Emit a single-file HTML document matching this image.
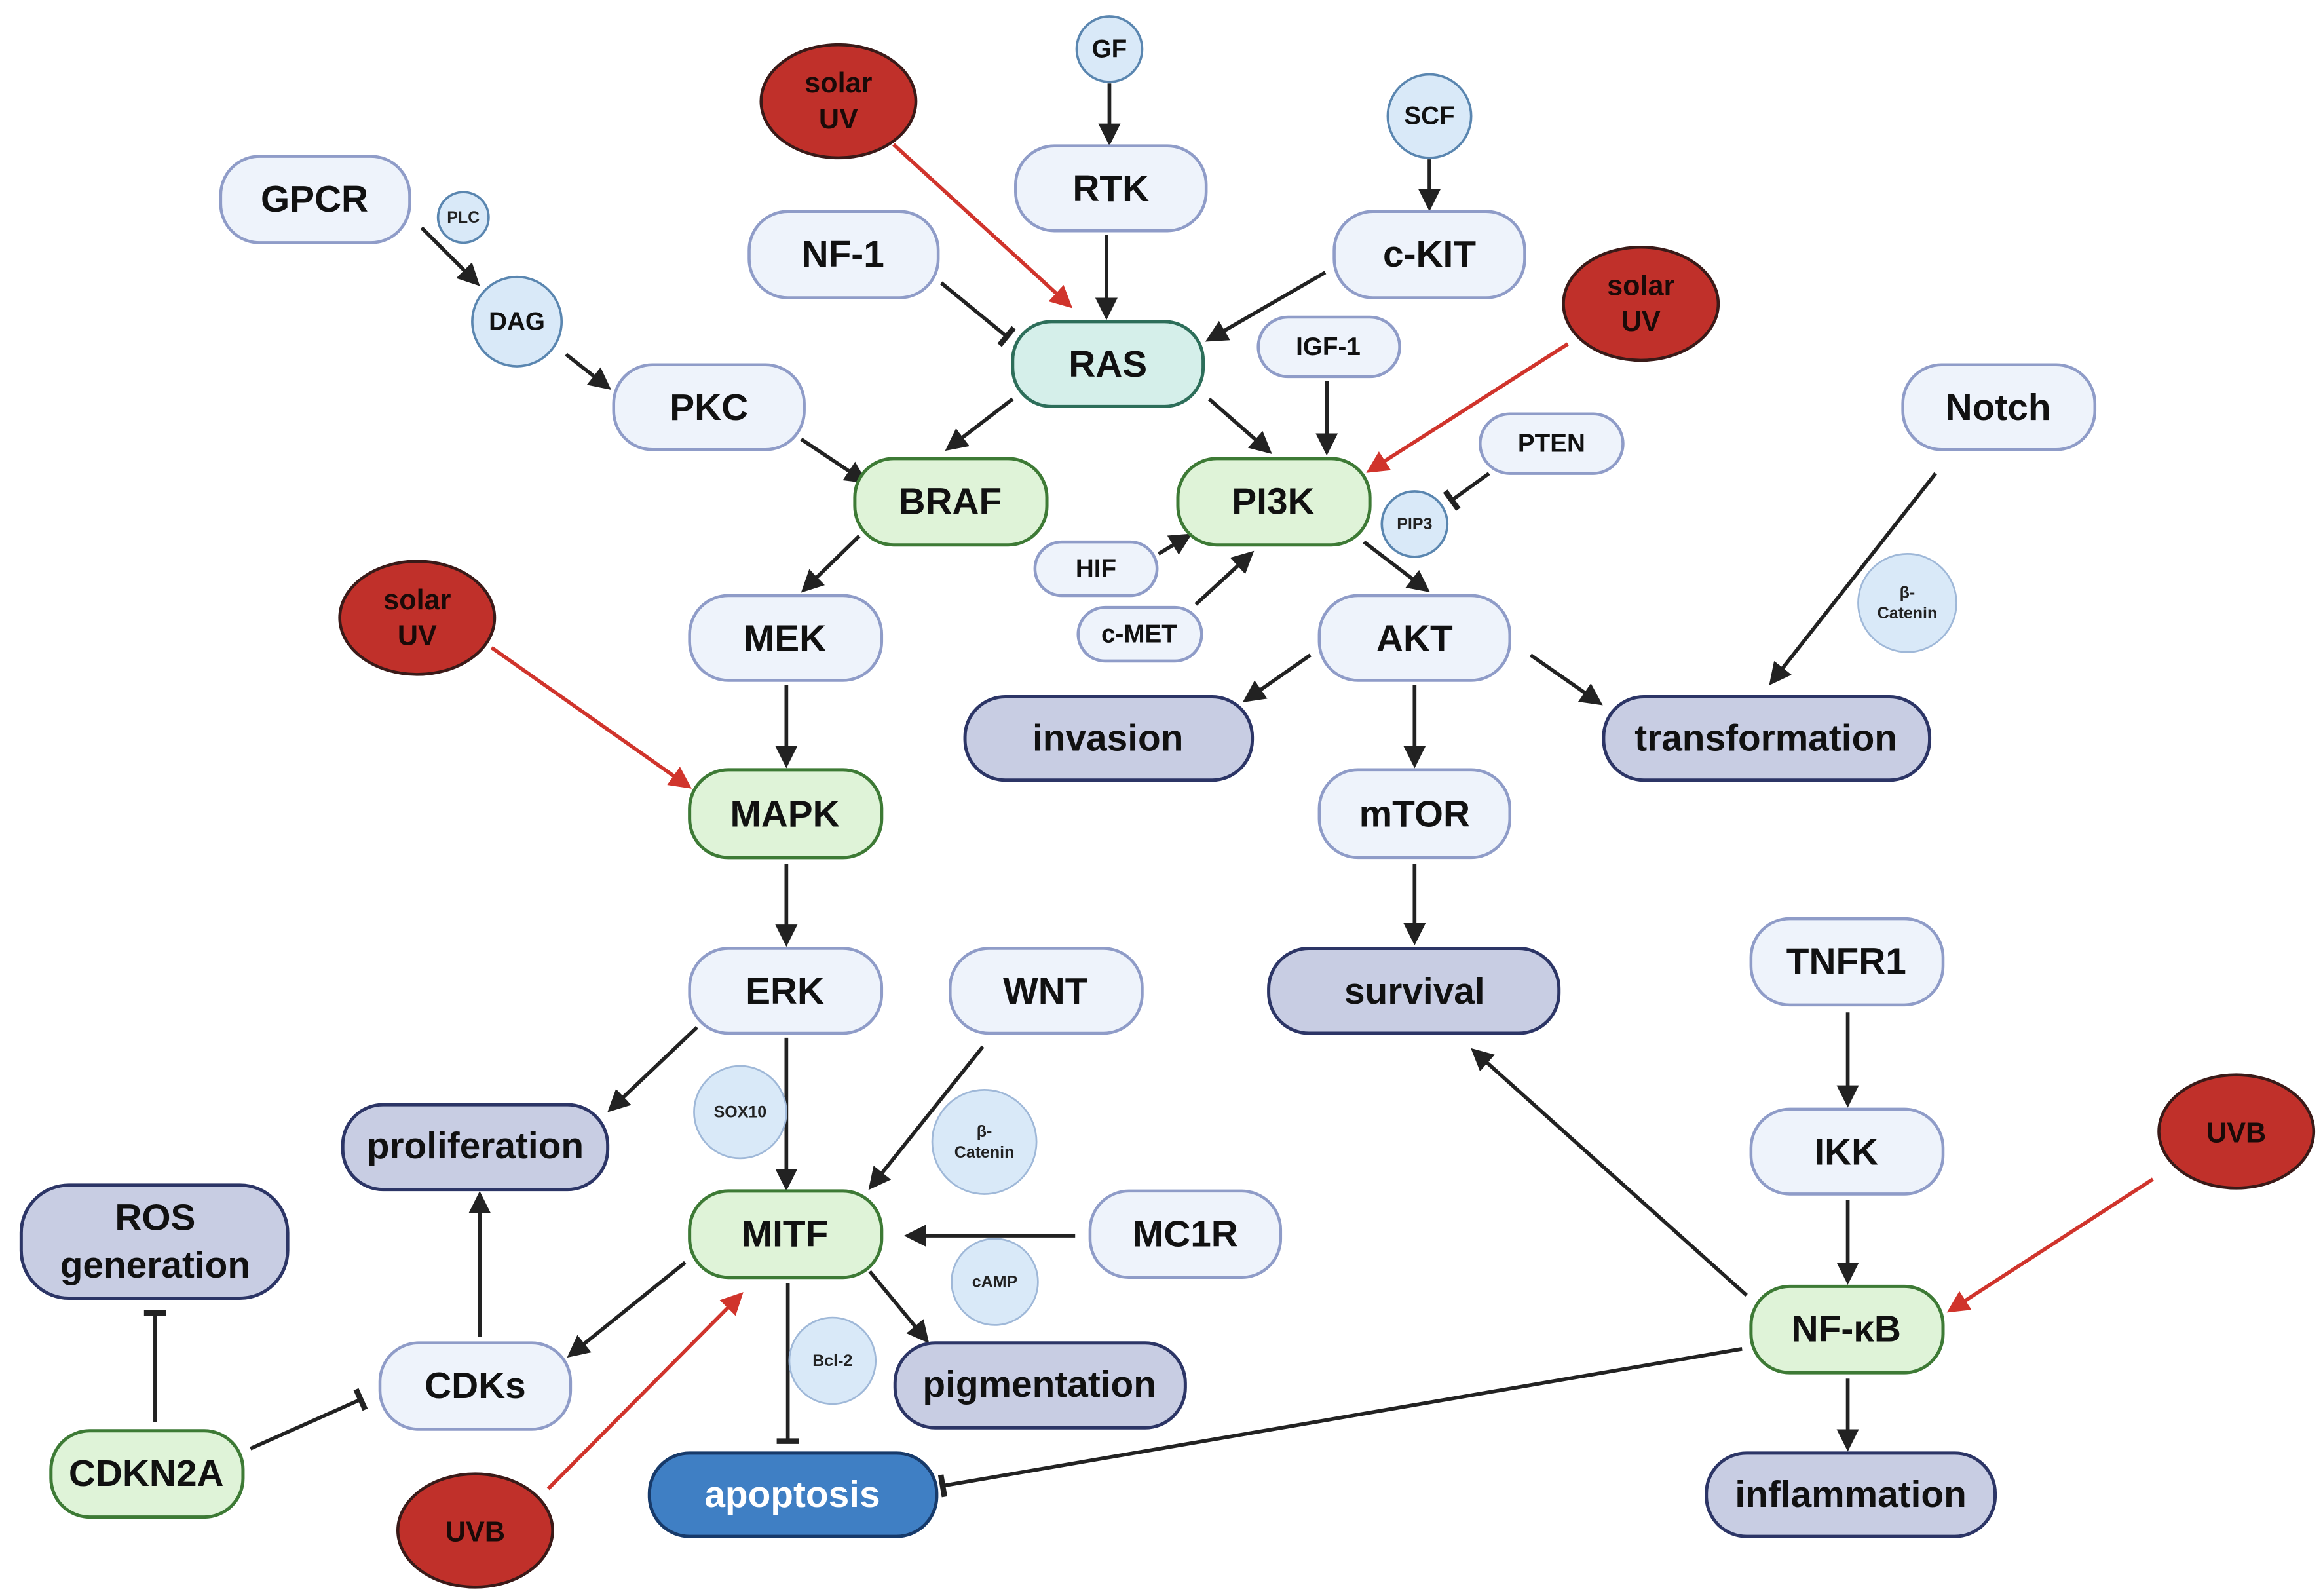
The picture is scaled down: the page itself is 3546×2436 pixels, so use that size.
<!DOCTYPE html>
<html><head><meta charset="utf-8"><style>
html,body{margin:0;padding:0;background:#fff}
svg{display:block}
text{font-family:"Liberation Sans",sans-serif;font-weight:bold;text-anchor:middle;dominant-baseline:central}
</style></head><body>
<svg width="3546" height="2436" viewBox="0 0 1560 1072" xmlns="http://www.w3.org/2000/svg">
<defs>
<marker id="a" viewBox="0 0 10 10" refX="8" refY="5" markerWidth="6" markerHeight="6" orient="auto" markerUnits="strokeWidth"><path d="M0,0 L10,5 L0,10 z" fill="#222"/></marker>
<marker id="r" viewBox="0 0 10 10" refX="8" refY="5" markerWidth="6" markerHeight="6" orient="auto" markerUnits="strokeWidth"><path d="M0,0 L10,5 L0,10 z" fill="#d0342c"/></marker>
<marker id="t" viewBox="0 0 4 12" refX="2" refY="6" markerWidth="2" markerHeight="6.5" orient="auto" markerUnits="strokeWidth"><rect x="0.5" y="0" width="3" height="12" fill="#222"/></marker>
</defs>
<g stroke="#222" stroke-width="2.5" fill="none">
<line x1="745" y1="56" x2="745" y2="95" marker-end="url(#a)"/>
<line x1="743" y1="158" x2="743" y2="212" marker-end="url(#a)"/>
<line x1="632" y1="190" x2="676" y2="226" marker-end="url(#t)"/>
<line x1="890" y1="183" x2="812" y2="228" marker-end="url(#a)"/>
<line x1="960" y1="107" x2="960" y2="139" marker-end="url(#a)"/>
<line x1="283" y1="153" x2="320" y2="190" marker-end="url(#a)"/>
<line x1="380" y1="238" x2="408" y2="260" marker-end="url(#a)"/>
<line x1="538" y1="295" x2="580" y2="323" marker-end="url(#a)"/>
<line x1="680" y1="268" x2="637" y2="301" marker-end="url(#a)"/>
<line x1="812" y1="268" x2="852" y2="303" marker-end="url(#a)"/>
<line x1="891" y1="256" x2="891" y2="303" marker-end="url(#a)"/>
<line x1="1000" y1="318" x2="975" y2="336" marker-end="url(#t)"/>
<line x1="778" y1="372" x2="798" y2="360" marker-end="url(#a)"/>
<line x1="803" y1="406" x2="840" y2="372" marker-end="url(#a)"/>
<line x1="916" y1="364" x2="958" y2="396" marker-end="url(#a)"/>
<line x1="577" y1="360" x2="540" y2="396" marker-end="url(#a)"/>
<line x1="528" y1="460" x2="528" y2="513" marker-end="url(#a)"/>
<line x1="528" y1="580" x2="528" y2="633" marker-end="url(#a)"/>
<line x1="880" y1="440" x2="837" y2="470" marker-end="url(#a)"/>
<line x1="950" y1="460" x2="950" y2="513" marker-end="url(#a)"/>
<line x1="1028" y1="440" x2="1074" y2="472" marker-end="url(#a)"/>
<line x1="1300" y1="318" x2="1190" y2="458" marker-end="url(#a)"/>
<line x1="950" y1="580" x2="950" y2="632" marker-end="url(#a)"/>
<line x1="1241" y1="680" x2="1241" y2="741" marker-end="url(#a)"/>
<line x1="1241" y1="806" x2="1241" y2="860" marker-end="url(#a)"/>
<line x1="1173" y1="870" x2="990" y2="706" marker-end="url(#a)"/>
<line x1="1170" y1="906" x2="633" y2="998" marker-end="url(#t)"/>
<line x1="1241" y1="926" x2="1241" y2="972" marker-end="url(#a)"/>
<line x1="468" y1="690" x2="410" y2="745" marker-end="url(#a)"/>
<line x1="528" y1="697" x2="528" y2="797" marker-end="url(#a)"/>
<line x1="660" y1="703" x2="585" y2="797" marker-end="url(#a)"/>
<line x1="722" y1="830" x2="610" y2="830" marker-end="url(#a)"/>
<line x1="460" y1="848" x2="383" y2="910" marker-end="url(#a)"/>
<line x1="584" y1="854" x2="622" y2="900" marker-end="url(#a)"/>
<line x1="529" y1="862" x2="529" y2="968" marker-end="url(#t)"/>
<line x1="322" y1="898" x2="322" y2="803" marker-end="url(#a)"/>
<line x1="168" y1="973" x2="242" y2="940" marker-end="url(#t)"/>
<line x1="104" y1="955" x2="104" y2="882" marker-end="url(#t)"/>
</g>
<g stroke="#d0342c" stroke-width="2.5" fill="none">
<line x1="600" y1="97" x2="718" y2="205" marker-end="url(#r)"/>
<line x1="1053" y1="231" x2="920" y2="316" marker-end="url(#r)"/>
<line x1="330" y1="435" x2="462" y2="528" marker-end="url(#r)"/>
<line x1="1446" y1="792" x2="1310" y2="880" marker-end="url(#r)"/>
<line x1="368" y1="1000" x2="497" y2="870" marker-end="url(#r)"/>
</g>
<g fill="#eef3fb" stroke="#8f9cc8" stroke-width="2">
<rect x="148" y="105" width="127" height="58" rx="26"/>
<rect x="412" y="245" width="128" height="57" rx="26"/>
<rect x="503" y="142" width="127" height="58" rx="26"/>
<rect x="682" y="98" width="128" height="57" rx="26"/>
<rect x="896" y="142" width="128" height="58" rx="26"/>
<rect x="845" y="213" width="95" height="40" rx="20"/>
<rect x="994" y="278" width="96" height="40" rx="20"/>
<rect x="1278" y="245" width="129" height="57" rx="26"/>
<rect x="695" y="364" width="82" height="36" rx="18"/>
<rect x="724" y="408" width="83" height="36" rx="18"/>
<rect x="463" y="400" width="129" height="57" rx="26"/>
<rect x="886" y="400" width="128" height="57" rx="26"/>
<rect x="886" y="517" width="128" height="59" rx="26"/>
<rect x="1176" y="617" width="129" height="58" rx="26"/>
<rect x="463" y="637" width="129" height="57" rx="26"/>
<rect x="638" y="637" width="129" height="57" rx="26"/>
<rect x="1176" y="745" width="129" height="57" rx="26"/>
<rect x="732" y="800" width="128" height="58" rx="26"/>
<rect x="255" y="902" width="128" height="58" rx="26"/>
</g>
<g fill="#dff3d8" stroke="#3d7a35" stroke-width="2.2">
<rect x="574" y="308" width="129" height="58" rx="26"/>
<rect x="791" y="308" width="129" height="58" rx="26"/>
<rect x="463" y="517" width="129" height="59" rx="26"/>
<rect x="463" y="800" width="129" height="58" rx="26"/>
<rect x="1176" y="864" width="129" height="58" rx="26"/>
<rect x="34" y="961" width="129" height="58" rx="26"/>
</g>
<rect x="680" y="216" width="128" height="57" rx="26" fill="#d5efea" stroke="#2d6e5a" stroke-width="2.2"/>
<g fill="#c8cde3" stroke="#2c3566" stroke-width="2.2">
<rect x="648" y="468" width="193" height="56" rx="27"/>
<rect x="1077" y="468" width="219" height="56" rx="27"/>
<rect x="852" y="637" width="195" height="57" rx="27"/>
<rect x="230" y="742" width="178" height="57" rx="27"/>
<rect x="14" y="796" width="179" height="76" rx="32"/>
<rect x="601" y="902" width="195" height="57" rx="27"/>
<rect x="1146" y="976" width="194" height="56" rx="27"/>
</g>
<rect x="436" y="976" width="193" height="56" rx="27" fill="#3f7fc4" stroke="#173a6a" stroke-width="2.2"/>
<g fill="#d9e9f8" stroke="#5a86b0" stroke-width="1.6">
<circle cx="311" cy="146" r="17"/>
<circle cx="347" cy="216" r="30"/>
<circle cx="745" cy="33" r="22"/>
<circle cx="960" cy="78" r="28"/>
<circle cx="950" cy="352" r="22"/>
</g>
<g fill="#d9e9f8" stroke="#9fb8d8" stroke-width="1.2">
<circle cx="1281" cy="405" r="33"/>
<circle cx="497" cy="747" r="31"/>
<circle cx="661" cy="767" r="35"/>
<circle cx="668" cy="861" r="29"/>
<circle cx="559" cy="914" r="29"/>
</g>
<g fill="#c0302a" stroke="#3a1a18" stroke-width="2">
<ellipse cx="563" cy="68" rx="52" ry="38"/>
<ellipse cx="1102" cy="204" rx="52" ry="38"/>
<ellipse cx="280" cy="415" rx="52" ry="38"/>
<ellipse cx="1502" cy="760" rx="52" ry="38"/>
<ellipse cx="319" cy="1028" rx="52" ry="38"/>
</g>
<g font-size="25" fill="#111">
<text x="211" y="134">GPCR</text>
<text x="476" y="274">PKC</text>
<text x="566" y="171">NF-1</text>
<text x="746" y="127">RTK</text>
<text x="960" y="171">c-KIT</text>
<text x="1342" y="274">Notch</text>
<text x="527" y="429">MEK</text>
<text x="950" y="429">AKT</text>
<text x="950" y="547">mTOR</text>
<text x="1240" y="646">TNFR1</text>
<text x="527" y="666">ERK</text>
<text x="702" y="666">WNT</text>
<text x="1240" y="774">IKK</text>
<text x="796" y="829">MC1R</text>
<text x="319" y="931">CDKs</text>
<text x="638" y="337">BRAF</text>
<text x="855" y="337">PI3K</text>
<text x="527" y="547">MAPK</text>
<text x="527" y="829">MITF</text>
<text x="1240" y="893">NF-κB</text>
<text x="98" y="990">CDKN2A</text>
<text x="744" y="245">RAS</text>
<text x="744" y="496">invasion</text>
<text x="1186" y="496">transformation</text>
<text x="950" y="666">survival</text>
<text x="319" y="770">proliferation</text>
<text x="104" y="818">ROS</text>
<text x="104" y="850">generation</text>
<text x="698" y="930">pigmentation</text>
<text x="1243" y="1004">inflammation</text>
<text x="532" y="1004" fill="#fff">apoptosis</text>
</g>
<g font-size="17" fill="#111">
<text x="892" y="233">IGF-1</text>
<text x="1042" y="298">PTEN</text>
<text x="736" y="382">HIF</text>
<text x="765" y="426">c-MET</text>
<text x="347" y="216">DAG</text>
<text x="745" y="33">GF</text>
<text x="960" y="78">SCF</text>
</g>
<g font-size="19" fill="#1a0a08">
<text x="563" y="56">solar</text><text x="563" y="80">UV</text>
<text x="1102" y="192">solar</text><text x="1102" y="216">UV</text>
<text x="280" y="403">solar</text><text x="280" y="427">UV</text>
<text x="1502" y="761">UVB</text>
<text x="319" y="1029">UVB</text>
</g>
<g font-size="11" fill="#222">
<text x="311" y="146">PLC</text>
<text x="950" y="352">PIP3</text>
<text x="497" y="747">SOX10</text>
<text x="668" y="861">cAMP</text>
<text x="559" y="914">Bcl-2</text>
<text x="1281" y="398">β-</text><text x="1281" y="412">Catenin</text>
<text x="661" y="760">β-</text><text x="661" y="774">Catenin</text>
</g>
</svg>
</body></html>
